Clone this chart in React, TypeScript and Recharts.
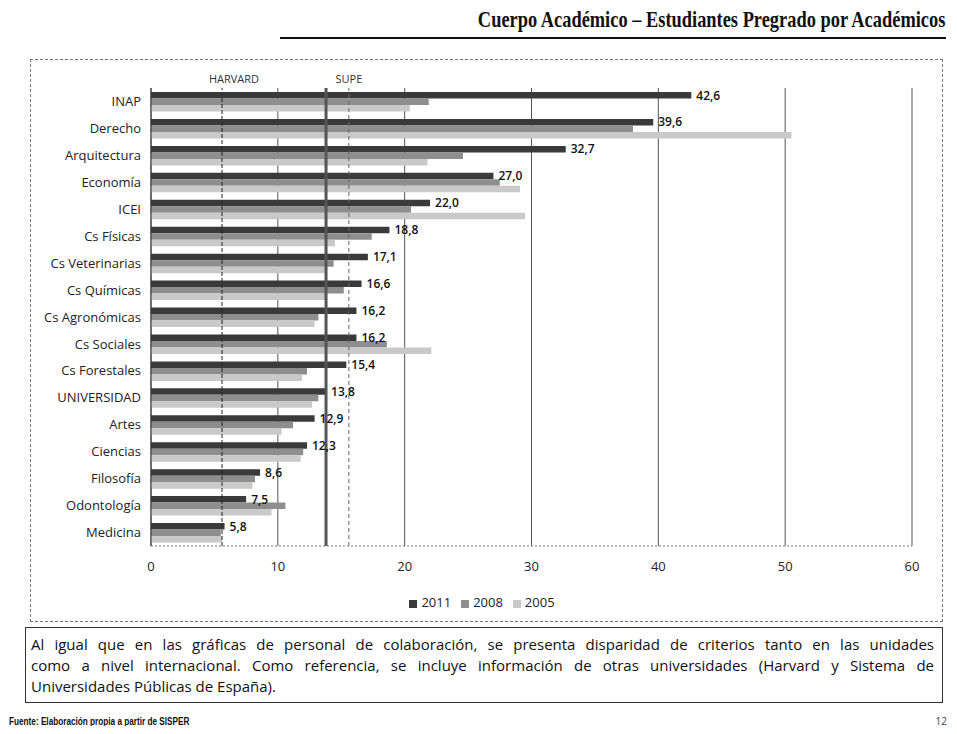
import React from 'react';
import { BarChart, Bar, XAxis, YAxis, CartesianGrid, ReferenceLine, LabelList, Legend } from 'recharts';

const categories = ['INAP', 'Derecho', 'Arquitectura', 'Economía', 'ICEI', 'Cs Físicas', 'Cs Veterinarias', 'Cs Químicas', 'Cs Agronómicas', 'Cs Sociales', 'Cs Forestales', 'UNIVERSIDAD', 'Artes', 'Ciencias', 'Filosofía', 'Odontología', 'Medicina'];
const values2011 = [42.6, 39.6, 32.7, 27.0, 22.0, 18.8, 17.1, 16.6, 16.2, 16.2, 15.4, 13.8, 12.9, 12.3, 8.6, 7.5, 5.8];
const values2008 = [21.9, 38.0, 24.6, 27.5, 20.5, 17.4, 14.4, 15.2, 13.2, 18.6, 12.3, 13.2, 11.2, 12.0, 8.2, 10.6, 5.5];
const values2005 = [20.4, 50.5, 21.8, 29.1, 29.5, 14.5, 13.8, 13.8, 12.9, 22.1, 11.9, 12.7, 10.3, 11.8, 8.0, 9.5, 5.6];
const xTicks = [0, 10, 20, 30, 40, 50, 60];
const seriesOrder = ['2011', '2008', '2005'];
const harvardValue = 5.6;
const universidadValue = 13.8;
const supeValue = 15.6;

const titleText = 'Cuerpo Académico – Estudiantes Pregrado por Académicos';
const noteLines = [
  'Al igual que en las gráficas de personal de colaboración, se presenta disparidad de criterios tanto en las unidades',
  'como a nivel internacional. Como referencia, se incluye información de otras universidades (Harvard y Sistema de',
  'Universidades Públicas de España).',
];
const sourceText = 'Fuente: Elaboración propia a partir de SISPER';
const pageNumber = '12';

const data = categories.map((name, i) => ({
  name,
  v2011: values2011[i],
  v2008: values2008[i],
  v2005: values2005[i],
}));

const FONT = '"Open Sans", "Noto Sans", sans-serif';
const fmt = (v: any) => Number(v).toFixed(1).replace('.', ',');

export default function App() {
  return (
    <div style={{ position: 'relative', width: 957, height: 734, margin: -8, background: '#fff', overflow: 'hidden', fontFamily: FONT }}>
      {/* page border */}
      <div style={{ position: 'absolute', left: 2, top: 1, width: 960, height: 729, borderLeft: '2px solid #222', borderTop: '2px solid #222', borderBottom: '2px solid #222' }} />
      {/* title */}
      <div style={{ position: 'absolute', right: 12, top: 6, fontFamily: '"Liberation Serif", serif', fontWeight: 700, fontSize: 23, color: '#111', whiteSpace: 'nowrap', lineHeight: '28px', transform: 'scaleX(0.8)', transformOrigin: 'right center' }}>
        {titleText}
      </div>
      <div style={{ position: 'absolute', left: 280, top: 37, width: 666, height: 2, background: '#111' }} />
      {/* chart box */}
      <div style={{ position: 'absolute', left: 30, top: 59, width: 913, height: 563, border: '1px dashed #777', boxSizing: 'border-box' }} />
      <div style={{ position: 'absolute', left: 0, top: 0 }}>
        <BarChart
          width={957}
          height={620}
          data={data}
          layout="vertical"
          margin={{ top: 88, right: 45, bottom: 10, left: 0 }}
          barGap={0}
          barSize={6.5}
        >
          <CartesianGrid horizontal={false} vertical={true} stroke="#555" />
          <XAxis
            type="number"
            domain={[0, 60]}
            ticks={xTicks}
            tickLine={false}
            axisLine={{ stroke: '#777', strokeDasharray: '2 2' }}
            tick={{ fontSize: 13, fill: '#222', fontFamily: FONT }}
            tickMargin={10}
            height={48}
          />
          <YAxis
            type="category"
            dataKey="name"
            width={151}
            tickLine={false}
            axisLine={{ stroke: '#333' }}
            tick={{ fontSize: 13, fill: '#222', fontFamily: FONT }}
            tickMargin={4}
            interval={0}
          />
          <Bar dataKey="v2011" name={seriesOrder[0]} fill="#3a3a3a" isAnimationActive={false}>
            <LabelList dataKey="v2011" position="right" offset={5} formatter={fmt} style={{ fontSize: 12, fontWeight: 600, fill: '#111', fontFamily: FONT }} />
          </Bar>
          <Bar dataKey="v2008" name={seriesOrder[1]} fill="#8e8e8e" isAnimationActive={false} />
          <Bar dataKey="v2005" name={seriesOrder[2]} fill="#c9c9c9" isAnimationActive={false} />
          <ReferenceLine x={harvardValue} stroke="#222" strokeDasharray="4 2" label={{ value: 'HARVARD', position: 'top', dx: 12, fontSize: 11, fill: '#333', fontFamily: FONT }} />
          <ReferenceLine x={universidadValue} stroke="#555" strokeWidth={3} />
          <ReferenceLine x={supeValue} stroke="#666" strokeDasharray="4 3" label={{ value: 'SUPE', position: 'top', fontSize: 11, fill: '#333', fontFamily: FONT }} />
          <Legend
            verticalAlign="bottom"
            iconType="square"
            iconSize={8}
            itemSorter={(item: any) => seriesOrder.indexOf(String(item.value))}
            wrapperStyle={{ left: 14, width: 946, fontSize: 13, lineHeight: '16px', fontFamily: FONT }}
            formatter={(value: any) => <span style={{ color: '#222' }}>{value}</span>}
          />
        </BarChart>
      </div>
      {/* note box */}
      <div style={{ position: 'absolute', left: 25, top: 627, width: 918, height: 76, border: '1px solid #333', boxSizing: 'border-box', padding: '6px 8px 0 5px', fontSize: 15, lineHeight: '21px', color: '#111' }}>
        {noteLines.map((line, i) => (
          <div key={i} style={{ textAlign: i < noteLines.length - 1 ? 'justify' : 'left', textAlignLast: i < noteLines.length - 1 ? 'justify' : 'left', whiteSpace: 'nowrap' } as any}>
            {line}
          </div>
        ))}
      </div>
      {/* footer */}
      <div style={{ position: 'absolute', left: 9, top: 716, fontSize: 10, lineHeight: '12px', fontWeight: 700, fontFamily: '"Liberation Sans", sans-serif', color: '#111', whiteSpace: 'nowrap', transform: 'scaleX(0.82)', transformOrigin: 'left center' }}>
        {sourceText}
      </div>
      <div style={{ position: 'absolute', right: 10, top: 715, fontSize: 10, lineHeight: '12px', color: '#444' }}>{pageNumber}</div>
    </div>
  );
}
